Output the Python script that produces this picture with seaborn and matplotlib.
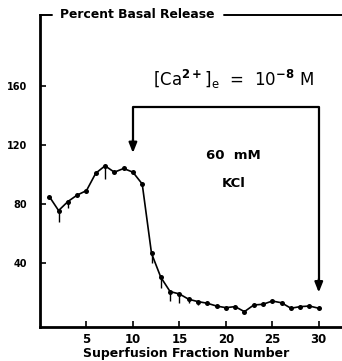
import matplotlib
matplotlib.use("Agg")
import matplotlib.pyplot as plt
import seaborn as sns
import pandas as pd
import numpy as np

fraction = list(range(1, 31))
release = [85, 75.5, 81.6, 86, 89, 100.8, 105.8, 101.5, 104, 101.5,
           93.5, 46.5, 30.3, 20.6, 19, 15.4, 13.8, 12.7, 10.8, 9.7,
           10.4, 7, 11.5, 12, 14.2, 13, 9.3, 10.4, 10.8, 9.3]
err_low = [0, 7.5, 4.6, 0, 0, 0, 9, 0, 0, 0,
           0, 6.5, 7, 6.6, 6, 2.5, 2.3, 0, 0, 0,
           0, 0, 0, 0, 0, 0, 0, 0, 0, 0]
y_ticks = [40, 80, 120, 160]
x_ticks = [5, 10, 15, 20, 25, 30]

df = pd.DataFrame({"fraction": fraction, "release": release, "err": err_low})

sns.set_theme(style="ticks")
plt.rcParams['font.family'] = ['DejaVu Sans']
plt.rcParams['font.weight'] = 'bold'
plt.rcParams['text.color'] = 'black'
plt.rcParams['axes.labelcolor'] = 'black'

fig = plt.figure(figsize=(3.42, 3.61), dpi=100)
ax = fig.add_axes([40/342, (361-327)/361, 302/342, (327-15)/361])

ax.errorbar(df["fraction"], df["release"], yerr=[df["err"], np.zeros(len(df))],
            fmt='none', ecolor='black', elinewidth=1.0, capsize=0)
sns.lineplot(data=df, x="fraction", y="release", ax=ax, color='black',
             linewidth=1.2, marker='o', markersize=3.6, markeredgewidth=0)

ax.set_xlim(0, 32.5)
ax.set_ylim(-3.4, 208)
ax.set_xticks(x_ticks)
ax.set_yticks(y_ticks)
ax.set_xticklabels([str(t) for t in x_ticks], fontsize=8.5, fontweight='bold')
ax.set_yticklabels([str(t) for t in y_ticks], fontsize=7, fontweight='bold')

for s in ['top', 'right']:
    ax.spines[s].set_visible(False)
for s in ['left', 'bottom']:
    ax.spines[s].set_color('black')
    ax.spines[s].set_linewidth(2.0)

ax.set_xlabel("Superfusion Fraction Number", fontsize=9, fontweight='bold', labelpad=1)
ax.xaxis.label.set_x(0.483)
ax.set_ylabel("")

ax.tick_params(axis='both', which='major', direction='in', length=4.5, width=1.2,
               color='black', labelcolor='black', bottom=True, left=True)
ax.tick_params(axis='y', pad=9)
ax.tick_params(axis='x', pad=4)

# top label line
ax.plot([0, 0.04], [1, 1], transform=ax.transAxes, color='black', lw=1.4, clip_on=False)
ax.text(0.065, 1, "Percent Basal Release", transform=ax.transAxes, fontsize=8.9,
        fontweight='bold', va='center', ha='left')
ax.plot([0.61, 1.0], [1, 1], transform=ax.transAxes, color='black', lw=1.4, clip_on=False)

# stimulus box with arrows
ax.plot([10, 10, 30, 30], [122, 146, 146, 28], color='black', lw=1.6)
for xa, ytip in [(10, 114.5), (30, 20)]:
    ax.annotate('', xy=(xa, ytip), xytext=(xa, ytip + 9),
                arrowprops=dict(arrowstyle='-|>,head_length=0.5,head_width=0.2',
                                color='black', lw=1.6, shrinkA=0, shrinkB=0))

ax.text(20.8, 164, r"[Ca$^{2+}$]$_\mathregular{e}$  =  10$^{-8}$ M", ha='center', va='center',
        fontsize=12, fontweight='normal')
ax.text(20.8, 113, "60  mM", ha='center', va='center', fontsize=9.5, fontweight='bold')
ax.text(20.8, 94, "KCl", ha='center', va='center', fontsize=9.5, fontweight='bold')

fig.savefig("out.png", dpi=100)
